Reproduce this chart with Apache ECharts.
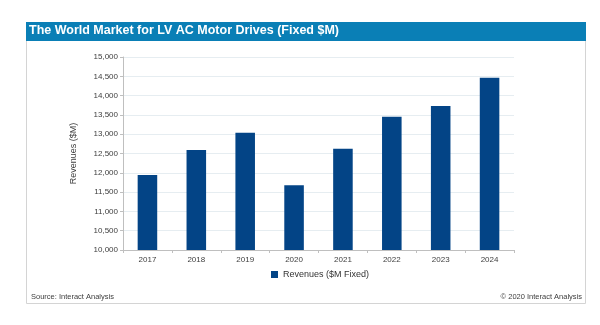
<!DOCTYPE html>
<html>
<head>
<meta charset="utf-8">
<script src="https://cdn.jsdelivr.net/npm/echarts@6/dist/echarts.min.js"></script>
<style>
html,body{margin:0;padding:0;background:#fff;}
#c{width:600px;height:325px;}
</style>
</head>
<body>
<div id="c"></div>
<script>
const titleText = 'The World Market for LV AC Motor Drives (Fixed $M)';
const categories = ['2017','2018','2019','2020','2021','2022','2023','2024'];
const revenues = [11940, 12590, 13040, 11680, 12620, 13450, 13730, 14460];
const seriesName = 'Revenues ($M Fixed)';
const yAxisName = 'Revenues ($M)';
const sourceText = 'Source: Interact Analysis';
const copyrightText = '\u00a9 2020 Interact Analysis';

const chart = echarts.init(document.getElementById('c'), null, {renderer:'canvas'});
const font = 'Liberation Sans, Arial, sans-serif';
chart.setOption({
  animation:false,
  backgroundColor:'#ffffff',
  graphic:[
    {type:'rect', shape:{x:26.5,y:22.5,width:559,height:281}, style:{fill:'#ffffff', stroke:'#d4d4d4', lineWidth:1}, z:-10},
    {type:'rect', shape:{x:26,y:22,width:560,height:19}, style:{fill:'#0a7fb6'}, z:-5},
    {type:'text', left:29, top:24.5, style:{text:titleText, fill:'#ffffff', font:'bold 12.5px '+font}},
    {type:'text', left:31, top:292.5, style:{text:sourceText, fill:'#404040', font:'7.5px '+font}},
    {type:'text', right:18, top:292.5, style:{text:copyrightText, fill:'#404040', font:'7.5px '+font}}
  ],
  grid:{left:123, right:86, top:57, bottom:75},
  legend:{
    data:[seriesName], left:266, top:265, itemWidth:7, itemHeight:7, itemGap:4,
    icon:'rect', textStyle:{fontFamily:font, fontSize:9, color:'#333'}
  },
  xAxis:{
    type:'category', data:categories,
    axisLine:{lineStyle:{color:'#bfbfbf'}},
    axisTick:{show:true, length:3, lineStyle:{color:'#bfbfbf'}},
    axisLabel:{fontFamily:font, fontSize:8, color:'#404040', margin:6}
  },
  yAxis:{
    type:'value', min:10000, max:15000, interval:500,
    name:yAxisName, nameLocation:'middle', nameGap:45, nameRotate:90,
    nameTextStyle:{fontFamily:font, fontSize:9, color:'#404040'},
    axisLine:{show:true, lineStyle:{color:'#bfbfbf'}},
    axisTick:{show:true, length:3, lineStyle:{color:'#bfbfbf'}},
    splitLine:{lineStyle:{color:'#e6edf1'}},
    axisLabel:{fontFamily:font, fontSize:8, color:'#404040', margin:5,
      formatter:v=>v.toLocaleString('en-US')}
  },
  series:[{
    name:seriesName, type:'bar', data:revenues, barWidth:'40%',
    itemStyle:{color:'#034486'}
  }]
});
</script>
</body>
</html>
